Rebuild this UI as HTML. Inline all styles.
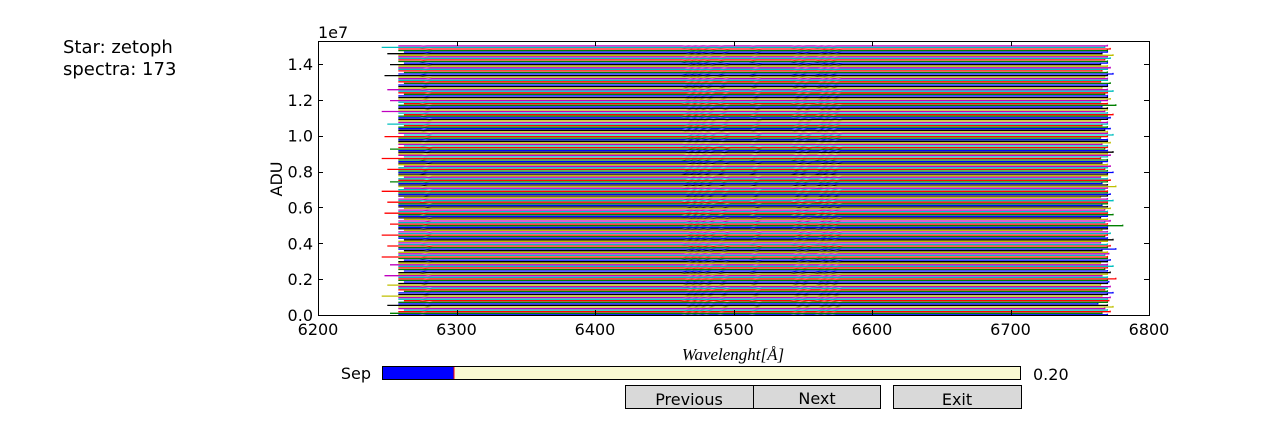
<!DOCTYPE html>
<html><head><meta charset="utf-8"><style>
html,body{margin:0;padding:0;background:#fff;}
body{width:1277px;height:422px;overflow:hidden;position:relative;font-family:"DejaVu Sans","Liberation Sans",sans-serif;}
svg{position:absolute;left:0;top:0;}
</style></head><body>
<svg id="chart" width="1277" height="422" viewBox="0 0 1277 422" xmlns="http://www.w3.org/2000/svg">
  <text x="63" y="53" font-size="18" font-family="DejaVu Sans, Liberation Sans, sans-serif">Star: zetoph</text>
  <text x="63" y="75" font-size="18" font-family="DejaVu Sans, Liberation Sans, sans-serif">spectra: 173</text>
  <g id="marks"></g>
  <rect x="318.5" y="41.5" width="831" height="274" fill="none" stroke="#000" stroke-width="1"/>
  <g id="axes"></g>
  <text x="318" y="38" font-size="16">1e7</text>
  <text transform="translate(282,179) rotate(-90)" text-anchor="middle" font-size="16">ADU</text>
  <text x="733" y="360" text-anchor="middle" font-size="17" font-style="italic" font-family="Liberation Serif, serif">Wavelenght[Å]</text>
  <text x="371" y="379" text-anchor="end" font-size="16">Sep</text>
  <g>
    <rect x="382.5" y="366.5" width="638" height="13" fill="#fafad2" stroke="#000"/>
    <rect x="383" y="367" width="71" height="12" fill="#0000ff"/>
    <line x1="454" y1="367" x2="454" y2="379" stroke="#ff0000" stroke-width="1"/>
  </g>
  <text x="1033" y="380" font-size="16">0.20</text>
  <g>
    <rect x="625.5" y="385.5" width="128" height="23" fill="#d9d9d9" stroke="#000"/>
    <text x="689" y="405" text-anchor="middle" font-size="16">Previous</text>
  </g>
  <g>
    <rect x="753.5" y="385.5" width="127" height="23" fill="#d9d9d9" stroke="#000"/>
    <text x="817" y="404" text-anchor="middle" font-size="16">Next</text>
  </g>
  <g>
    <rect x="893.5" y="385.5" width="128" height="23" fill="#d9d9d9" stroke="#000"/>
    <text x="957" y="405" text-anchor="middle" font-size="16">Exit</text>
  </g>
</svg>
<script>
const xTicks = [6200,6300,6400,6500,6600,6700,6800];
const yTicks = [0,0.2,0.4,0.6,0.8,1.0,1.2,1.4];
const yTickLabels = ["0.0","0.2","0.4","0.6","0.8","1.0","1.2","1.4"];
const sep = 0.20;
const baseFlux = 87200;
const firstLevel = 10000;
const nSpectra = 173;
const lineCentres = [6278, 6467, 6472, 6477, 6483, 6493, 6516, 6546, 6552, 6563, 6568, 6574];
const starts = [6258,6252,6258,6262,6258,6258,6250,6258,6258,6262,
6258,6258,6246,6258,6258,6262,6258,6258,6258,6250,
6258,6262,6258,6258,6258,6248,6258,6258,6262,6258,
6258,6258,6252,6258,6258,6262,6258,6246,6258,6258,
6258,6262,6258,6258,6250,6258,6258,6258,6262,6258,
6258,6246,6258,6258,6262,6258,6258,6258,6252,6258,
6258,6262,6258,6258,6258,6248,6258,6258,6262,6258,
6258,6258,6250,6258,6258,6262,6258,6258,6258,6246,
6258,6262,6258,6258,6258,6252,6258,6258,6262,6258,
6258,6258,6258,6250,6258,6262,6258,6258,6258,6258,
6246,6262,6258,6258,6258,6258,6252,6258,6262,6258,
6258,6258,6258,6258,6248,6262,6258,6258,6258,6258,
6258,6262,6250,6258,6258,6258,6258,6258,6262,6258,
6246,6258,6258,6258,6258,6262,6258,6252,6258,6258,
6258,6262,6258,6258,6250,6258,6258,6258,6262,6258,
6258,6258,6258,6248,6258,6262,6258,6258,6258,6258,
6252,6262,6258,6258,6258,6258,6258,6250,6262,6258,
6258,6246,6258];
const ends = [6770,6766,6772,6770,6768,6774,6770,6763,6770,6771,
6770,6772,6766,6770,6774,6770,6768,6770,6772,6765,
6770,6771,6770,6776,6770,6766,6770,6772,6770,6768,
6770,6774,6770,6765,6770,6772,6770,6770,6768,6771,
6770,6766,6776,6770,6772,6770,6765,6770,6774,6770,
6768,6770,6772,6770,6766,6770,6770,6781,6770,6768,
6772,6770,6765,6770,6774,6770,6770,6768,6772,6770,
6766,6770,6770,6774,6770,6765,6770,6772,6770,6770,
6768,6770,6776,6770,6766,6770,6772,6770,6765,6770,
6770,6774,6770,6768,6770,6772,6770,6766,6770,6770,
6765,6770,6772,6770,6774,6770,6768,6770,6770,6766,
6772,6770,6770,6765,6770,6774,6770,6770,6768,6772,
6770,6766,6770,6770,6765,6770,6772,6770,6774,6770,
6768,6770,6770,6766,6776,6770,6765,6770,6772,6770,
6770,6768,6770,6774,6770,6766,6770,6770,6772,6765,
6770,6770,6768,6770,6774,6770,6766,6770,6772,6770,
6765,6770,6770,6768,6772,6770,6774,6766,6770,6770,
6772,6768,6770];
const colors = ["#0000ff","#008000","#ff0000","#00bfbf","#bf00bf","#bfbf00","#000000"];

const X0=318, X1=1149, Y0=315, Y1=41;
const xMin=6200, xMax=6800, yMin=0, yMax=1.528e7;
function xs(v){return X0+(v-xMin)/(xMax-xMin)*(X1-X0);}
function ys(v){return Y0-(v-yMin)/(yMax-yMin)*(Y0-Y1);}
const NS="http://www.w3.org/2000/svg";
const marks=document.getElementById('marks');
const axes=document.getElementById('axes');
const clip=document.createElementNS(NS,'clipPath');clip.setAttribute('id','pc');
const cr=document.createElementNS(NS,'rect');cr.setAttribute('x',X0);cr.setAttribute('y',Y1);cr.setAttribute('width',X1-X0);cr.setAttribute('height',Y0-Y1);
clip.appendChild(cr);document.getElementById('chart').appendChild(clip);
marks.setAttribute('clip-path','url(#pc)');

for(let i=0;i<nSpectra;i++){
  const level = firstLevel + i*baseFlux*(sep/0.20);
  const shift = ((i%9)-4)*0.6;
  const pts=[];
  const s=starts[i], e=ends[i];
  pts.push([s,level]);
  const feats=lineCentres.map(c=>c+shift).filter(c=>c>s+2&&c<e-2).sort((a,b)=>a-b);
  feats.forEach(c=>{pts.push([c-2.5,level]);pts.push([c,level-14000]);pts.push([c+2.5,level]);});
  pts.push([e,level]);
  pts.push([e,level+60000]);
  const pl=document.createElementNS(NS,'polyline');
  pl.setAttribute('points',pts.map(p=>xs(p[0]).toFixed(1)+','+ys(p[1]).toFixed(1)).join(' '));
  pl.setAttribute('fill','none');
  pl.setAttribute('stroke',colors[i%colors.length]);
  pl.setAttribute('stroke-width','1.3');
  
  
  marks.appendChild(pl);
}
function add(tag,attrs,parent,txt){const el=document.createElementNS(NS,tag);for(const k in attrs)el.setAttribute(k,attrs[k]);if(txt!==undefined)el.textContent=txt;parent.appendChild(el);return el;}
xTicks.forEach(t=>{
  const x=Math.round(xs(t))+0.5;
  add('line',{x1:x,x2:x,y1:Y0,y2:Y0-5,stroke:'#000'},axes);
  add('line',{x1:x,x2:x,y1:Y1,y2:Y1+5,stroke:'#000'},axes);
  const tx=add('text',{x:xs(t),y:335,'text-anchor':'middle','font-size':'16'},axes,String(t));
  
  
});
yTicks.forEach((t,k)=>{
  const y=Math.round(ys(t*1e7))+0.5;
  add('line',{x1:X0,x2:X0+5,y1:y,y2:y,stroke:'#000'},axes);
  add('line',{x1:X1,x2:X1-5,y1:y,y2:y,stroke:'#000'},axes);
  const ty=add('text',{x:313,y:ys(t*1e7)+6,'text-anchor':'end','font-size':'16'},axes,yTickLabels[k]);
  
  
});
</script>
</body></html>
